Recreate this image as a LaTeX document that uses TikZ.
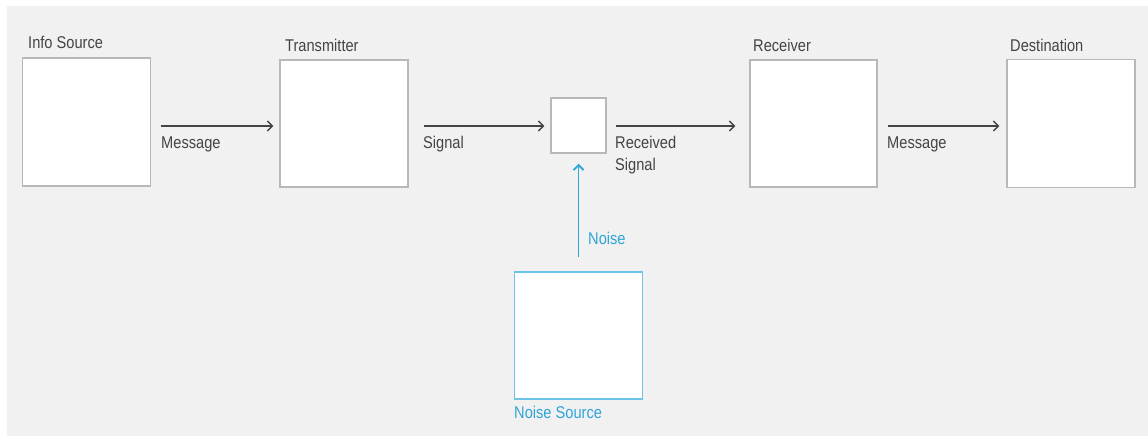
\documentclass[tikz,border=0pt]{standalone}
\usepackage{fontspec}
\setmainfont{Liberation Sans}[FakeStretch=0.86]
\usetikzlibrary{arrows.meta}
\definecolor{bgpanel}{HTML}{F1F1F1}
\definecolor{inkgray}{HTML}{444444}
\definecolor{edgegray}{HTML}{B8B8B8}
\definecolor{noiseblue}{HTML}{2FA4D7}
\definecolor{noiseedge}{HTML}{6CC4E8}
\tikzset{
  block/.style={draw=edgegray, line width=1.5pt, fill=white, inner sep=0pt},
  noiseblock/.style={draw=noiseedge, line width=1.5pt, fill=white, inner sep=0pt},
  lbl/.style={anchor=base west, inner sep=0pt, text=inkgray, font=\fontsize{17}{22}\selectfont},
  bluelbl/.style={lbl, text=noiseblue},
  arr/.style={draw=inkgray, line width=1.4pt, -{Straight Barb[length=5pt,width=10pt,line width=1.4pt]}},
  bluearr/.style={draw=noiseblue, line width=1.9pt, -{Straight Barb[length=5pt,width=10pt,line width=1.9pt]}}
}
\begin{document}
\begin{tikzpicture}[x=1pt,y=-1pt]
  \useasboundingbox (0,0) rectangle (1148,439);
  \fill[white] (0,0) rectangle (1148,439);
  \fill[bgpanel] (7,6) rectangle (1148,436);

  % main chain of blocks
  \node[block, minimum width=128, minimum height=128] (src) at (86.5,122) {};
  \node[block, minimum width=128, minimum height=127] (tx) at (344,123.5) {};
  \node[block, minimum width=55, minimum height=55] (mix) at (578.5,125.5) {};
  \node[block, minimum width=127, minimum height=127] (rx) at (813.5,123.5) {};
  \node[block, minimum width=128, minimum height=128] (dst) at (1071,123.5) {};
  \node[noiseblock, minimum width=128, minimum height=127] (ns) at (578.5,335.5) {};

  % block titles
  \node[lbl] (srcT) at (28,48) {Info Source};
  \node[lbl] (txT) at (285,51) {Transmitter};
  \node[lbl] (rxT) at (753,51) {Receiver};
  \node[lbl] (dstT) at (1010,51) {Destination};
  \node[bluelbl] (nsT) at (514,418) {Noise Source};

  % connectors
  \draw[arr] ([shift={(10,4)}]src.east) -- ([shift={(-6,2.5)}]tx.west);
  \draw[arr] ([shift={(15,2.5)}]tx.east) -- ([shift={(-6,0.5)}]mix.west);
  \draw[arr] ([shift={(9,0.5)}]mix.east) -- ([shift={(-14,2.5)}]rx.west);
  \draw[arr] ([shift={(10,2.5)}]rx.east) -- ([shift={(-7,2.5)}]dst.west);
  \draw[bluearr] ([yshift=14pt]ns.north) -- ([yshift=-10pt]mix.south);

  % connector labels
  \node[lbl] (m1) at (161,148) {Message};
  \node[lbl] (sg) at (423,148) {Signal};
  \node[lbl] (rs1) at (615,148) {Received};
  \node[lbl] (rs2) at (615,170) {Signal};
  \node[lbl] (m2) at (887,148) {Message};
  \node[bluelbl] (nz) at (588,244) {Noise};
\end{tikzpicture}
\end{document}
